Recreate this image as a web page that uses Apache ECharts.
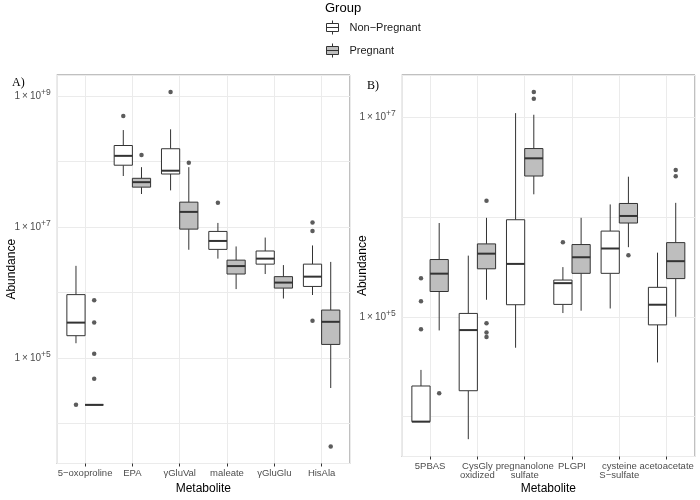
<!DOCTYPE html>
<html><head><meta charset="utf-8">
<script src="https://cdn.jsdelivr.net/npm/echarts@6/dist/echarts.min.js"></script>
<style>html,body{margin:0;padding:0;background:#fff}#c{width:700px;height:500px}</style>
</head><body><div id="c"></div><script>
// ---------- data ----------
const groups = ['Non\u2212Pregnant', 'Pregnant'];

const categoriesA = ['5\u2212oxoproline', 'EPA', '\u03b3GluVal', 'maleate', '\u03b3GluGlu', 'HisAla'];
// [lower whisker, Q1, median, Q3, upper whisker]
const nonPregA = [
  [1.68e5, 2.19e5, 3.47e5, 9.3e5, 2.56e6],
  [6.05e7, 8.85e7, 1.23e8, 1.77e8, 3.05e8],
  [3.65e7, 6.49e7, 7.29e7, 1.58e8, 3.13e8],
  [3.30e6, 4.57e6, 6.15e6, 8.6e6, 1.16e7],
  [1.92e6, 2.72e6, 3.30e6, 4.32e6, 6.93e6],
  [9.17e5, 1.24e6, 1.75e6, 2.72e6, 5.25e6]
];
const pregA = [
  [1.92e4, 1.92e4, 1.92e4, 1.92e4, 1.92e4],
  [3.21e7, 4.09e7, 4.87e7, 5.58e7, 8.26e7],
  [4.51e6, 9.33e6, 1.71e7, 2.41e7, 8.26e7],
  [1.13e6, 1.92e6, 2.54e6, 3.13e6, 5.07e6],
  [8.1e5, 1.17e6, 1.42e6, 1.75e6, 2.63e6],
  [3.47e4, 1.61e5, 3.57e5, 5.4e5, 2.94e6]
];
// [category index, value]
const outNonPregA = [[0, 1.92e4], [1, 5.0e8], [2, 1.16e9], [3, 2.35e7], [5, 1.18e7], [5, 8.71e6], [5, 3.69e5]];
const outPregA = [[0, 7.64e5], [0, 3.47e5], [0, 1.16e5], [0, 4.79e4], [1, 1.27e8], [2, 9.62e7], [5, 4.43e3]];

const categoriesB = ['5PBAS', 'CysGly\noxidized', 'pregnanolone\nsulfate', 'PLGPI', 'cysteine\nS\u2212sulfate', 'acetoacetate'];
const nonPregB = [
  [8.93e3, 8.93e3, 8.93e3, 2.03e4, 2.94e4],
  [5.96e3, 1.82e4, 7.36e4, 1.08e5, 4.09e5],
  [4.9e4, 1.32e5, 3.38e5, 9.35e5, 1.09e7],
  [1.09e5, 1.33e5, 2.17e5, 2.33e5, 3.14e5],
  [1.21e5, 2.72e5, 4.82e5, 7.2e5, 1.33e6],
  [3.49e4, 8.3e4, 1.32e5, 1.97e5, 4.38e5]
];
const pregB = [
  [7.3e4, 1.79e5, 2.70e5, 3.74e5, 8.67e5],
  [1.48e5, 3.02e5, 4.28e5, 5.36e5, 9.77e5],
  [1.68e6, 2.56e6, 3.85e6, 4.82e6, 1.05e7],
  [1.15e5, 2.72e5, 3.94e5, 5.28e5, 9.77e5],
  [4.97e5, 8.67e5, 1.02e6, 1.36e6, 2.52e6],
  [1.0e5, 2.41e5, 3.6e5, 5.52e5, 1.38e6]
];
const outNonPregB = [[0, 2.43e5], [0, 1.43e5], [0, 7.52e4], [3, 5.56e5]];
const outPregB = [[0, 1.72e4], [1, 1.45e6], [1, 8.61e4], [1, 6.97e4], [1, 6.28e4], [2, 1.77e7], [2, 1.52e7], [4, 4.12e5], [5, 2.94e6], [5, 2.55e6]];

// ---------- styling ----------
const SANS = 'Liberation Sans, Arial, sans-serif';
const SERIF = 'Liberation Serif, Times New Roman, serif';
const BOX_W = 0.385;          // box width in category units
const FILLS = ['#ffffff', '#bebebe'];
const LINE = '#333333';

function boxRenderer(sign, fill) {
  return function (params, api) {
    const xi = api.value(0);
    const vMed = api.value(3);
    const p0 = api.coord([xi, vMed]);
    const unit = api.coord([xi + 1, vMed])[0] - p0[0];
    const bw = BOX_W * unit;
    const xc = p0[0] + sign * bw / 2;
    const yy = k => api.coord([xi, api.value(k)])[1];
    const yMin = yy(1), yQ1 = yy(2), yMed = yy(3), yQ3 = yy(4), yMax = yy(5);
    const x0 = xc - bw / 2;
    const st = { stroke: LINE, lineWidth: 1 };
    return {
      type: 'group',
      children: [
        { type: 'line', shape: { x1: xc, y1: yMax, x2: xc, y2: yQ3 }, style: st },
        { type: 'line', shape: { x1: xc, y1: yQ1, x2: xc, y2: yMin }, style: st },
        { type: 'rect', shape: { x: x0, y: yQ3, width: bw, height: yQ1 - yQ3 }, style: { fill: fill, stroke: LINE, lineWidth: 1 } },
        { type: 'line', shape: { x1: x0, y1: yMed, x2: x0 + bw, y2: yMed }, style: { stroke: LINE, lineWidth: 2 } }
      ]
    };
  };
}

function yLabel(v) {
  const l = Math.log10(v);
  const n = Math.round(l);
  if (Math.abs(l - n) > 1e-6 || n % 2 === 0) return '';
  return '{b|1\u2009\u00d7\u200910}{s|+' + n + '}';
}

function xAxisCfg(gi, cats, nameGap) {
  return {
    type: 'value', gridIndex: gi, min: -0.6, max: 5.6,
    axisLine: { show: false },
    axisTick: { show: true, length: 3, lineStyle: { color: LINE } },
    splitLine: { show: true, lineStyle: { color: '#ebebeb', width: 1 } },
    axisLabel: {
      margin: 5, color: '#4d4d4d', fontSize: 9.5, fontFamily: SANS, lineHeight: 9.5,
      showMinLabel: false, showMaxLabel: false,
      formatter: v => (Math.abs(v - Math.round(v)) < 1e-6 && cats[Math.round(v)] !== undefined) ? cats[Math.round(v)] : ''
    },
    name: 'Metabolite', nameLocation: 'middle', nameGap: nameGap, nameMoveOverlap: false,
    nameTextStyle: { color: '#000', fontSize: 12, fontFamily: SANS }
  };
}

function yAxisCfg(gi, lo, hi, nameGap) {
  return {
    type: 'log', logBase: 10, gridIndex: gi, min: Math.pow(10, lo), max: Math.pow(10, hi),
    axisLine: { show: false }, axisTick: { show: false },
    splitLine: { show: true, lineStyle: { color: '#ebebeb', width: 1 } },
    axisLabel: {
      margin: 6, formatter: yLabel,
      rich: {
        b: { fontSize: 10, color: '#4d4d4d', fontFamily: SANS },
        s: { fontSize: 8.5, color: '#4d4d4d', fontFamily: SANS, padding: [0, 0, 7, 0] }
      }
    },
    name: 'Abundance', nameLocation: 'middle', nameGap: nameGap, nameMoveOverlap: false,
    nameTextStyle: { color: '#000', fontSize: 12, fontFamily: SANS }
  };
}

function boxData(stats) { return stats.map((s, i) => [i].concat(s)); }
function outData(pts, sign) { return pts.map(p => [p[0] + sign * BOX_W / 2, p[1]]); }

function panelSeries(gi, nonPreg, preg, outNP, outP) {
  return [
    { type: 'custom', name: groups[0], xAxisIndex: gi, yAxisIndex: gi, renderItem: boxRenderer(-1, FILLS[0]),
      encode: { x: 0, y: [1, 2, 3, 4, 5] }, data: boxData(nonPreg), z: 2,
      itemStyle: { color: FILLS[0], borderColor: LINE, borderWidth: 1 } },
    { type: 'custom', name: groups[1], xAxisIndex: gi, yAxisIndex: gi, renderItem: boxRenderer(1, FILLS[1]),
      encode: { x: 0, y: [1, 2, 3, 4, 5] }, data: boxData(preg), z: 2,
      itemStyle: { color: FILLS[1], borderColor: LINE, borderWidth: 1 } },
    { type: 'scatter', name: 'outNP' + gi, xAxisIndex: gi, yAxisIndex: gi, data: outData(outNP, -1),
      symbol: 'circle', symbolSize: 4.5, itemStyle: { color: LINE }, z: 3, silent: true },
    { type: 'scatter', name: 'outP' + gi, xAxisIndex: gi, yAxisIndex: gi, data: outData(outP, 1),
      symbol: 'circle', symbolSize: 4.5, itemStyle: { color: LINE }, z: 3, silent: true }
  ];
}

const ICON = 'path://M6,0L6,3M0,3L12,3L12,11L0,11ZM0,7L12,7M6,11L6,14';

const option = {
  backgroundColor: '#fff',
  animation: false,
  textStyle: { fontFamily: SANS },
  title: [
    { text: 'Group', left: 320, top: -3, textStyle: { fontSize: 13, fontWeight: 'normal', color: '#000', fontFamily: SANS } },
    { text: 'A)', left: 7, top: 72, textStyle: { fontSize: 12, fontWeight: 'normal', color: '#000', fontFamily: SERIF } },
    { text: 'B)', left: 362, top: 75, textStyle: { fontSize: 12, fontWeight: 'normal', color: '#000', fontFamily: SERIF } }
  ],
  legend: {
    orient: 'vertical', left: 321, top: 15, itemWidth: 12, itemHeight: 14, itemGap: 8,
    selectedMode: false,
    textStyle: { fontSize: 11, color: '#1a1a1a', fontFamily: SANS, padding: [0, 0, 0, 6] },
    data: [
      { name: groups[0], icon: ICON, itemStyle: { color: FILLS[0], borderColor: LINE, borderWidth: 1 } },
      { name: groups[1], icon: ICON, itemStyle: { color: FILLS[1], borderColor: LINE, borderWidth: 1 } }
    ]
  },
  grid: [
    { left: 56.7, top: 75, width: 293.3, height: 395, show: true, borderColor: '#808080', borderWidth: 1, backgroundColor: 'transparent' },
    { left: 401.7, top: 75, width: 293.3, height: 389.3, show: true, borderColor: '#808080', borderWidth: 1, backgroundColor: 'transparent' }
  ],
  xAxis: [xAxisCfg(0, categoriesA, 19.5), xAxisCfg(1, categoriesB, 26.5)],
  yAxis: [yAxisCfg(0, 3.3865, 9.326, 39), yAxisCfg(1, 3.602, 7.419, 33)],
  series: panelSeries(0, nonPregA, pregA, outNonPregA, outPregA)
    .concat(panelSeries(1, nonPregB, pregB, outNonPregB, outPregB))
};

const chart = echarts.init(document.getElementById('c'), null, { renderer: 'canvas' });
chart.setOption(option);
</script></body></html>
